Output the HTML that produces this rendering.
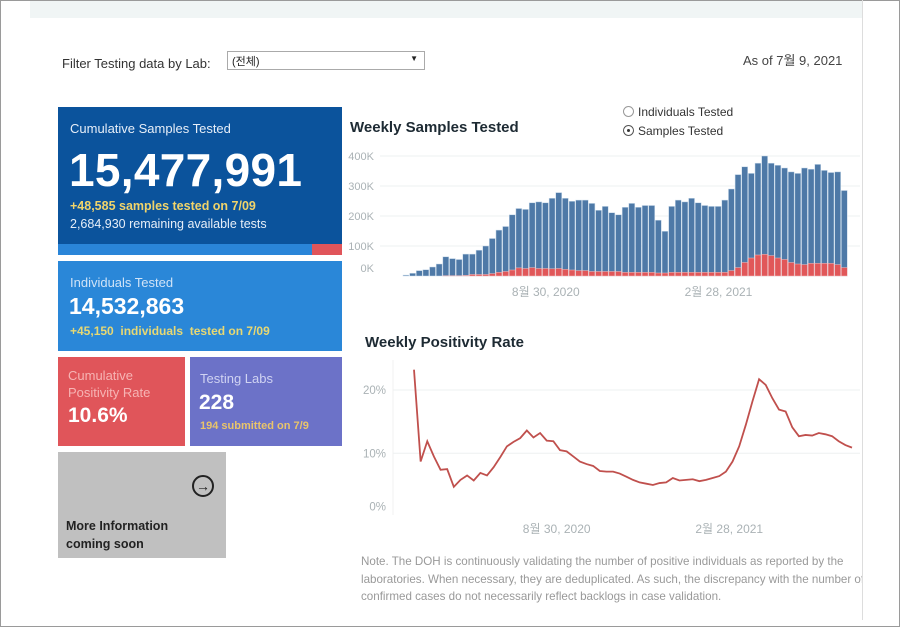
<!DOCTYPE html>
<html><head><meta charset="utf-8"><style>
*{margin:0;padding:0;box-sizing:border-box}
body{width:900px;height:627px;position:relative;background:#fff;font-family:"Liberation Sans","Noto Sans CJK KR",sans-serif;overflow:hidden}
.a{position:absolute}
.card{position:absolute;color:#fff}
</style></head><body>
<div class="a" style="left:0;top:0;width:900px;height:627px;border:1px solid #9a9a9a"></div>
<div class="a" style="left:30px;top:1px;width:832px;height:17px;background:#f0f5f5"></div>
<div class="a" style="left:862px;top:0;width:1px;height:620px;background:#ddd"></div>
<div class="a" style="left:62px;top:56px;font-size:13px;color:#333">Filter Testing data by Lab:</div>
<div class="a" style="left:227px;top:51px;width:198px;height:19px;border:1px solid #aaa;font-size:11px;padding:1px 4px;color:#222">(전체)<span style="position:absolute;right:6px;top:2px;font-size:8px">▼</span></div>
<div class="a" style="left:743px;top:50px;font-size:13px;color:#444">As of 7월 9, 2021</div>

<div class="card" style="left:58px;top:107px;width:284px;height:137px;background:#0b539c">
 <div class="a" style="left:12px;top:14px;font-size:13px;color:#e6eef8">Cumulative Samples Tested</div>
 <div class="a" style="left:11px;top:36px;font-size:46px;font-weight:bold;letter-spacing:0.3px">15,477,991</div>
 <div class="a" style="left:12px;top:92px;font-size:12.5px;font-weight:bold;color:#f1d46a">+48,585 samples tested on 7/09</div>
 <div class="a" style="left:12px;top:110px;font-size:12.5px;color:#e6eef8">2,684,930 remaining available tests</div>
</div>
<div class="a" style="left:58px;top:244px;width:254px;height:11px;background:#2a85d8"></div>
<div class="a" style="left:312px;top:244px;width:30px;height:11px;background:#e0555a"></div>

<div class="card" style="left:58px;top:261px;width:284px;height:90px;background:#2a87d8">
 <div class="a" style="left:12px;top:14px;font-size:13px;color:#cfe3f7">Individuals Tested</div>
 <div class="a" style="left:11px;top:32px;font-size:23px;font-weight:bold">14,532,863</div>
 <div class="a" style="left:12px;top:63px;font-size:12px;font-weight:bold;color:#e7d873">+45,150&nbsp; individuals&nbsp; tested on 7/09</div>
</div>
<div class="card" style="left:58px;top:357px;width:127px;height:89px;background:#e0555a">
 <div class="a" style="left:10px;top:10px;font-size:13px;line-height:17px;color:#f6b4b4">Cumulative<br>Positivity Rate</div>
 <div class="a" style="left:10px;top:47px;font-size:21px;font-weight:bold">10.6%</div>
</div>
<div class="card" style="left:190px;top:357px;width:152px;height:89px;background:#6c72c8">
 <div class="a" style="left:10px;top:14px;font-size:13px;color:#d0d3f2">Testing Labs</div>
 <div class="a" style="left:9px;top:34px;font-size:21px;font-weight:bold">228</div>
 <div class="a" style="left:10px;top:63px;font-size:11px;font-weight:bold;color:#e9c46a">194 submitted on 7/9</div>
</div>
<div class="card" style="left:58px;top:452px;width:168px;height:106px;background:#c0c0c0;color:#222">
 <div class="a" style="left:134px;top:23px;width:22px;height:22px;border:2px solid #222;border-radius:50%;font-size:14px;line-height:18px;text-align:center;font-weight:bold">→</div>
 <div class="a" style="left:8px;top:65px;font-size:12.5px;line-height:18px;font-weight:bold">More Information<br>coming soon</div>
</div>

<div class="a" style="left:623px;top:105px;font-size:12px;color:#333"><span style="display:inline-block;width:11px;height:11px;border:1px solid #999;border-radius:50%;vertical-align:-1px;margin-right:4px"></span>Individuals Tested</div>
<div class="a" style="left:623px;top:124px;font-size:12px;color:#333"><span style="display:inline-block;width:11px;height:11px;border:1px solid #555;border-radius:50%;vertical-align:-1px;margin-right:4px;position:relative"><span style="position:absolute;left:3px;top:3px;width:3px;height:3px;background:#333;border-radius:50%"></span></span>Samples Tested</div>
<div class="a" style="left:350px;top:119px;font-size:15px;font-weight:bold;color:#1d2a33">Weekly Samples Tested</div>
<div class="a" style="left:365px;top:334px;font-size:15px;font-weight:bold;color:#1d2a33">Weekly Positivity Rate</div>
<div class="a" style="left:361px;top:553px;width:501px;overflow:hidden;font-size:11.6px;line-height:17.5px;color:#999;white-space:nowrap">Note. The DOH is continuously validating the number of positive individuals as reported by the<br>laboratories. When necessary, they are deduplicated. As such, the discrepancy with the number of<br>confirmed cases do not necessarily reflect backlogs in case validation.</div>

<svg class="a" style="left:0;top:0" width="900" height="627">
<g id="bars"></g><g id="line"></g></svg>
<script>
const samples=[3,9,18,21,30,40,64,58,55,73,73,86,100,125,153,165,204,225,222,244,247,244,259,278,259,249,253,253,242,219,232,211,204,229,242,229,235,235,186,149,232,253,247,259,244,235,232,232,253,290,338,364,342,376,400,376,369,360,347,342,360,356,372,352,345,347,285];
const positives=[0,0,0,0,0,0,1,1,1,2,5,5,5,8,12,15,20,27,25,28,25,25,24,25,22,20,18,18,15,15,15,15,15,12,12,12,12,12,10,10,12,12,12,12,12,12,12,12,12,18,28,45,60,70,72,68,60,55,45,40,38,42,42,42,42,38,28];
const rate=[23.2,8.7,11.9,9.5,7.4,7.5,4.7,5.8,6.5,5.7,6.9,6.5,7.8,9.4,11.1,11.8,12.4,13.6,12.5,13.2,12.0,11.9,10.5,10.3,9.5,8.7,8.3,8.0,7.2,7.1,7.1,6.8,6.3,5.8,5.4,5.2,5.0,5.3,5.4,6.1,5.7,5.8,5.9,5.6,5.8,6.1,6.4,7.1,8.7,11.1,14.5,18.2,21.7,20.8,18.7,16.9,16.6,14.1,12.7,12.9,12.8,13.2,13.0,12.7,11.9,11.3,10.9];
const barTicks=[0,100,200,300,400];
const barTickLabels=["0K","100K","200K","300K","400K"];
const rateTicks=[0,10,20];
const rateTickLabels=["0%","10%","20%"];
const dateLabels=["8월 30, 2020","2월 28, 2021"];
const dateIdx=[21,47];
const NS="http://www.w3.org/2000/svg";
function mk(t,a,p){const e=document.createElementNS(NS,t);for(const k in a)e.setAttribute(k,a[k]);p.appendChild(e);return e;}
const pitch=(848-403)/samples.length;
const bx=i=>403+i*pitch;
const by=v=>276-v*0.3;
const lx=i=>414+i*(852-414)/(rate.length-1);
const ly=p=>516.6-6.33*p;
const gb=document.getElementById('bars'),gl=document.getElementById('line');
barTicks.forEach((t,i)=>{
 if(t>0){const g=mk('line',{x1:380,x2:860,y1:by(t),y2:by(t),stroke:'#eef0f1'},gb);
 
 }
 const tx=mk('text',{x:374,y:(t===0?by(t)-4:by(t)+4),'text-anchor':'end','font-size':11,fill:'#aab2b5'},gb);
 tx.textContent=barTickLabels[i];
 
 
});
samples.forEach((v,i)=>{
 const r=mk('rect',{x:bx(i),y:by(v),width:pitch-0.7,height:by(0)-by(v),fill:'#4e79a7',stroke:'#c9daea','stroke-width':0.5},gb);
 
 
 if(positives[i]>0){const p=mk('rect',{x:bx(i),y:by(positives[i]),width:pitch-0.7,height:by(0)-by(positives[i]),fill:'#e15759',stroke:'#f3c0c0','stroke-width':0.5},gb);
 
 }
});
dateLabels.forEach((d,k)=>{
 const t=mk('text',{x:bx(dateIdx[k])+pitch/2,y:296,'text-anchor':'middle','font-size':12,fill:'#aab2b5'},gb);
 t.textContent=d;
 
 
 const t2=mk('text',{x:lx(dateIdx[k]+0.5),y:533,'text-anchor':'middle','font-size':12,fill:'#aab2b5'},gl);
 t2.textContent=d;
 
 
});
mk('line',{x1:393,x2:393,y1:360,y2:515,stroke:'#f0f0f0'},gl);
rateTicks.forEach((t,i)=>{
 if(t>0){const g=mk('line',{x1:393,x2:860,y1:ly(t),y2:ly(t),stroke:'#eef0f1'},gl);
 
 }
 const tx=mk('text',{x:386,y:(t===0?ly(t)-6:ly(t)+4),'text-anchor':'end','font-size':11.5,fill:'#aab2b5'},gl);
 tx.textContent=rateTickLabels[i];
 
 
});
const pl=mk('polyline',{points:rate.map((p,i)=>lx(i)+','+ly(p)).join(' '),fill:'none',stroke:'#c0504d','stroke-width':1.8},gl);


</script>
</body></html>
